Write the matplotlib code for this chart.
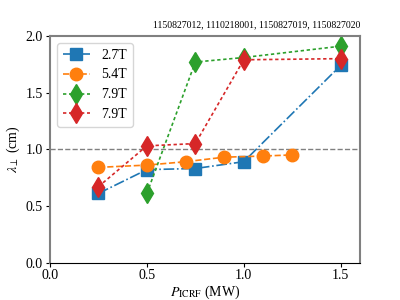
import matplotlib
matplotlib.use("Agg")
import matplotlib.pyplot as plt

plt.rcParams['font.family'] = ['Liberation Serif', 'DejaVu Serif']
plt.rcParams['mathtext.fontset'] = 'stix'

labels = ['2.7T', '5.4T', '7.9T', '7.9T']
x_27 = [0.25, 0.5, 0.75, 1.0, 1.5]
y_27 = [0.61, 0.82, 0.83, 0.89, 1.74]
x_54 = [0.25, 0.5, 0.7, 0.9, 1.1, 1.25]
y_54 = [0.84, 0.86, 0.89, 0.93, 0.94, 0.95]
x_79a = [0.5, 0.75, 1.0, 1.5]
y_79a = [0.61, 1.77, 1.81, 1.91]
x_79b = [0.25, 0.5, 0.75, 1.0, 1.5]
y_79b = [0.67, 1.03, 1.05, 1.79, 1.80]
title = '1150827012, 1110218001, 1150827019, 1150827020'

fig = plt.figure(figsize=(4, 3), dpi=100)
ax = fig.add_axes([0.125, 0.125, 0.775, 0.755])

ax.axhline(1.0, color='gray', ls='--', lw=1)
ax.plot(x_27, y_27, color='tab:blue', ls='-.', marker='s', ms=9, lw=1.2, label=labels[0])
ax.plot(x_54, y_54, color='tab:orange', ls='--', marker='o', ms=9, lw=1.2, label=labels[1])
ax.plot(x_79a, y_79a, color='tab:green', ls=(0, (2, 1.6)), marker='d', ms=10, lw=1.2, label=labels[2])
ax.plot(x_79b, y_79b, color='tab:red', ls=(0, (2, 1.6)), marker='d', ms=10, lw=1.2, label=labels[3])

ax.set_xlim(0, 1.6)
ax.set_ylim(0, 2.0)
ax.set_xticks([0.0, 0.5, 1.0, 1.5])
ax.set_yticks([0.0, 0.5, 1.0, 1.5, 2.0])
ax.tick_params(labelsize=10, length=3, pad=2)
for s in ['left', 'top', 'right']:
    ax.spines[s].set_color('gray')
    ax.spines[s].set_linewidth(1.5)
ax.spines['bottom'].set_color('black')

ax.set_xlabel(r'$P_{\mathrm{ICRF}}$ (MW)', fontsize=10, labelpad=1)
ax.set_ylabel(r'$\lambda_{\perp}$ (cm)', fontsize=10, labelpad=3)
ax.set_title(title, loc='right', fontsize=7)
ax.legend(loc='upper left', fontsize=10)

fig.savefig('out.png', dpi=100)
